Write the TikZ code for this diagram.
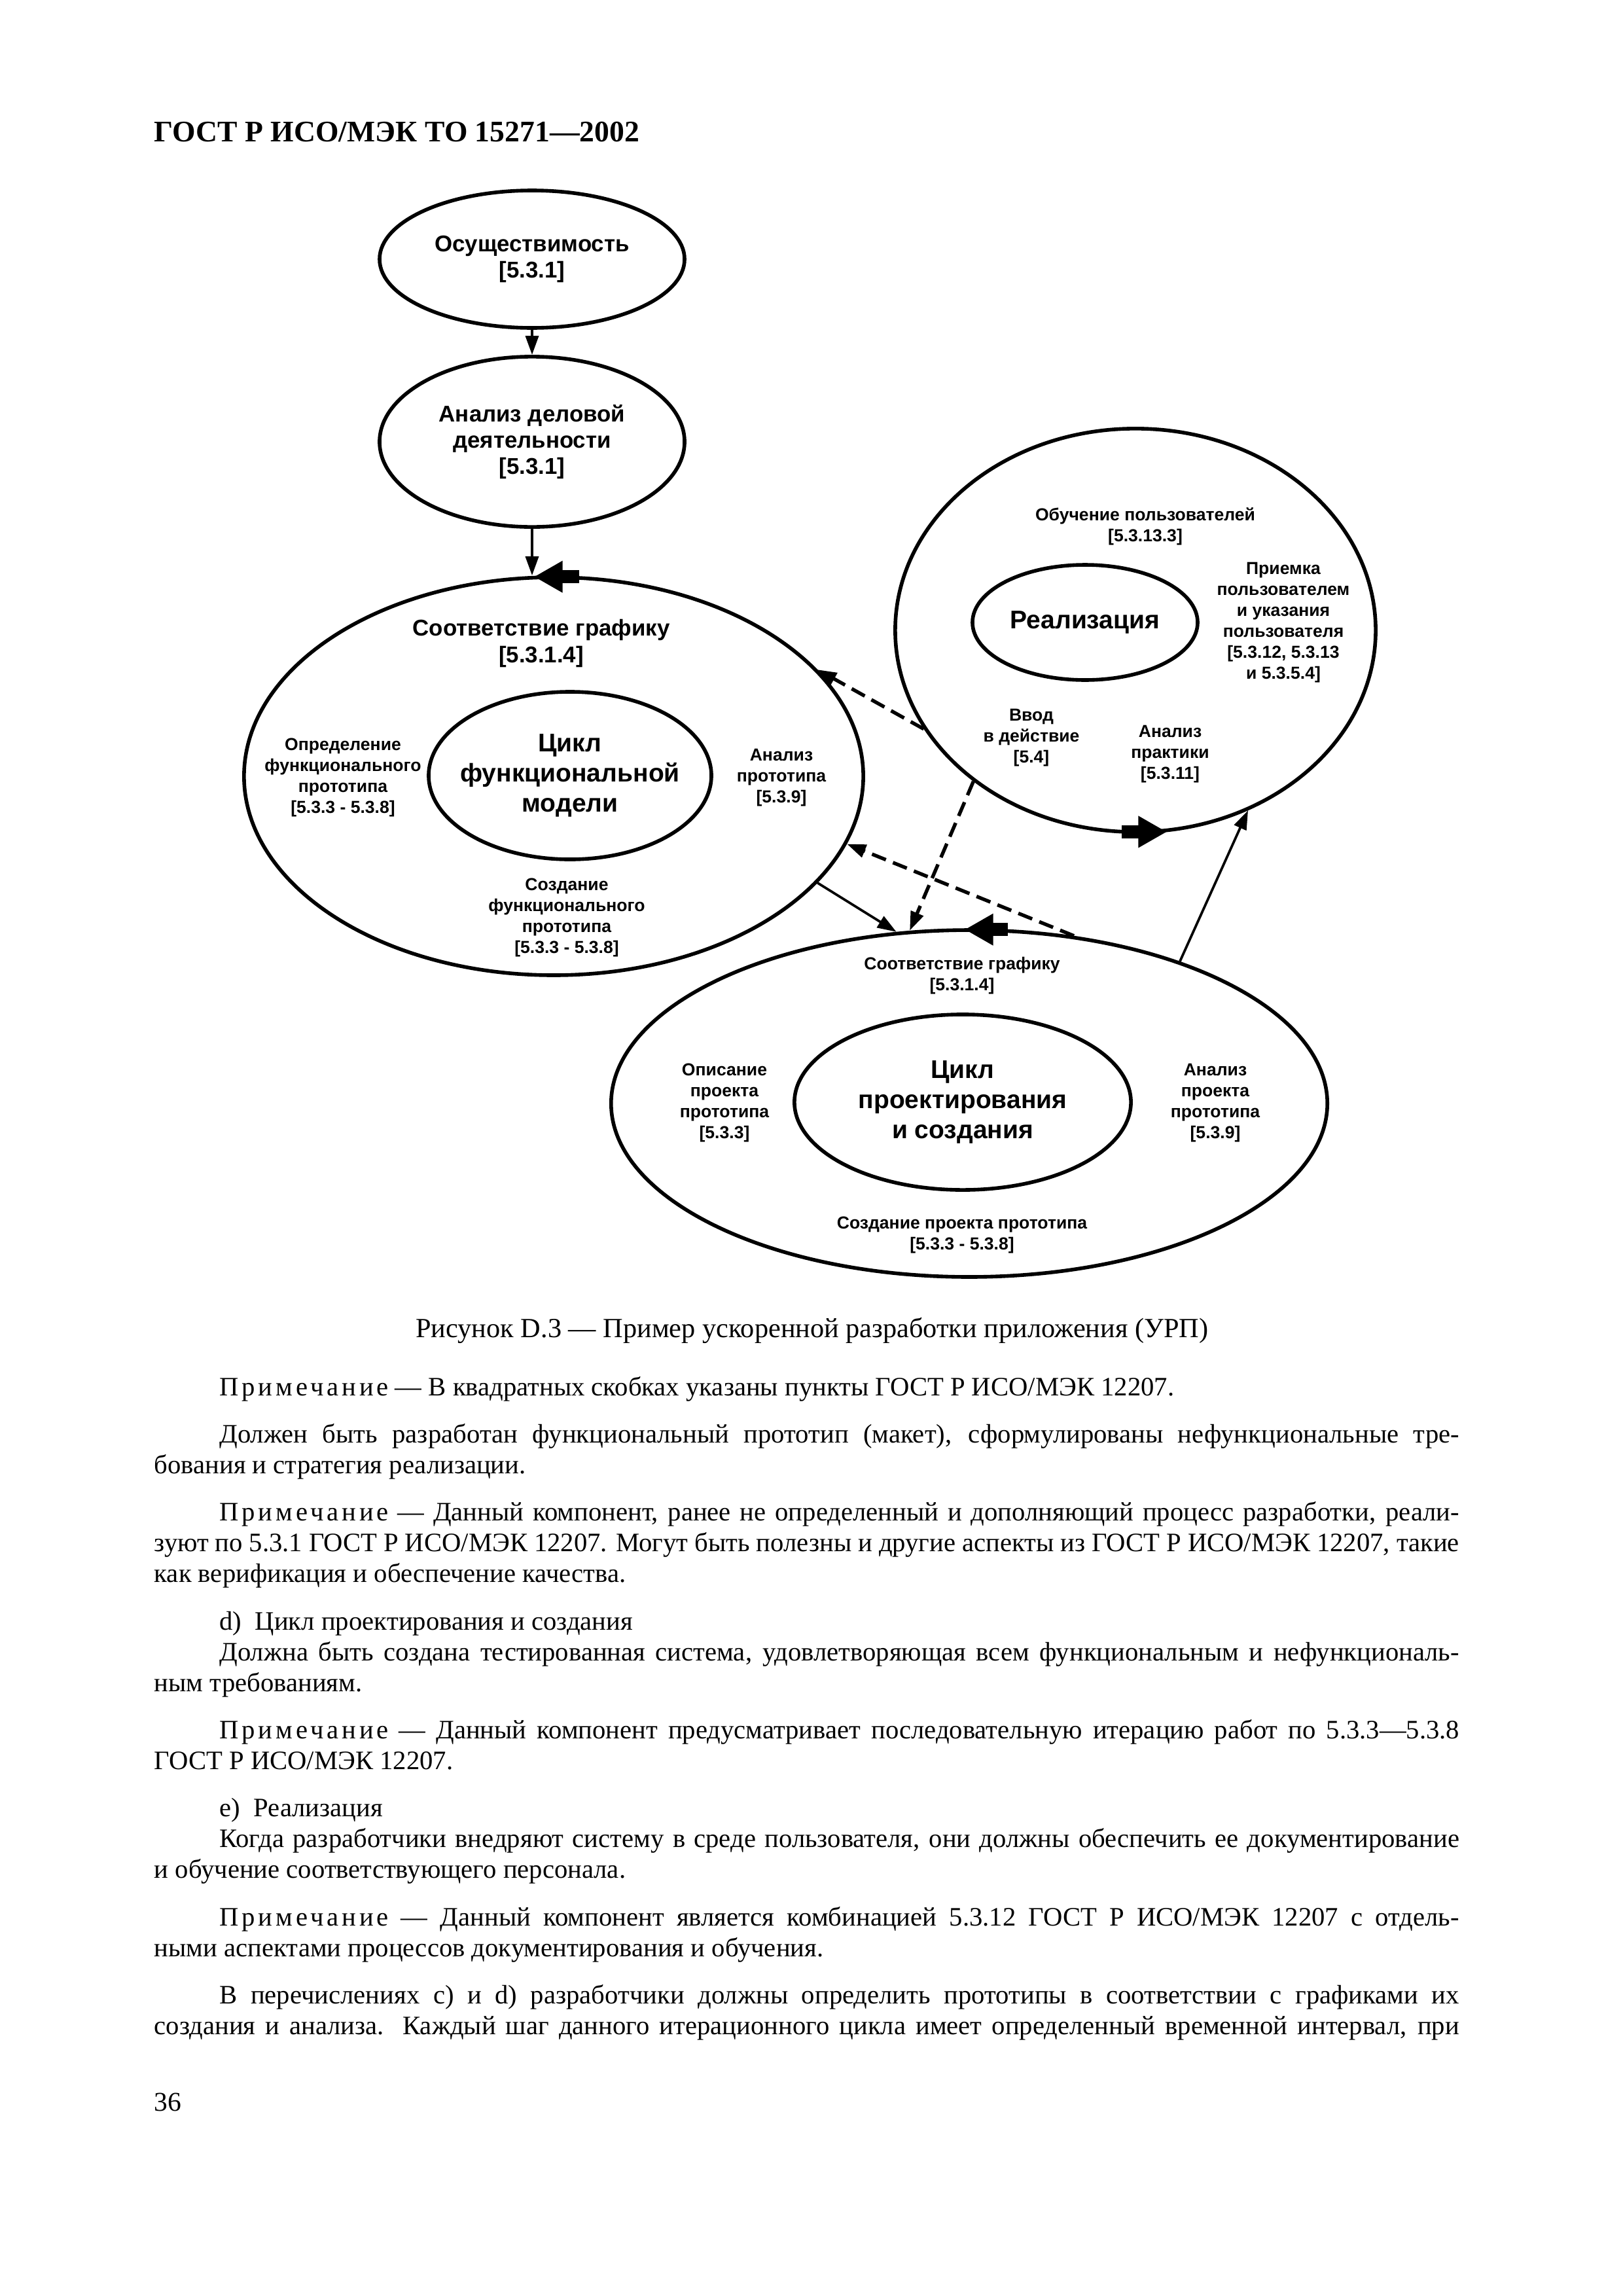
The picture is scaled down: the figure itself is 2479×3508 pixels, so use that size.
\documentclass[tikz,border=0pt]{standalone}
\usepackage{fontspec}
\setmainfont{Liberation Serif}
\newfontfamily\dia{Liberation Sans}
\usetikzlibrary{shapes.geometric,arrows.meta,calc}
% page text lines
\newcommand\fullln[1]{\hbox to\hsize{#1}}
\newcommand\lastln[1]{\hbox{#1}}
\newcommand\pind{\hskip 24pt}
\newcommand\sprs[1]{{\addfontfeatures{LetterSpace=12}#1}}

\begin{document}
\begin{tikzpicture}[x=0.008471cm,y=-0.008471cm,
    cyc/.style 2 args={ellipse,draw,line width=1.35pt,inner sep=0pt,
                minimum width=#1,minimum height=#2},
    big/.style={font=\dia\bfseries\fontsize{8.4}{9.7}\selectfont,align=center},
    mid/.style={font=\dia\bfseries\fontsize{9.4}{11}\selectfont,align=center},
    sml/.style={font=\dia\bfseries\fontsize{6.4}{7.7}\selectfont,align=center},
    ar/.style={-{Triangle[length=7pt,width=4.8pt]},line width=0.9pt},
    dar/.style={ar,line width=1.3pt,dash pattern=on 5.5pt off 2.8pt},
    blk/.style={-{Triangle[length=10.5pt,width=11pt]},line width=4.8pt}
  ]
    \useasboundingbox (0,0) rectangle (2479,3508);
    \node[font=\bfseries\fontsize{11}{13}\selectfont,anchor=base west,inner sep=0pt]
      (hdr) at (235,216) {ГОСТ Р ИСО/МЭК ТО 15271—2002};

    % ellipses
    \node[cyc={112.3pt}{50.6pt},big] (E1) at (813,396) {Осуществимость\\{}[5.3.1]};
    \node[cyc={112.3pt}{62.7pt},big] (E2) at (813,675) {Анализ деловой\\деятельности\\{}[5.3.1]};
    \node[cyc={228pt}{146.5pt}] (L) at (846,1186) {};
    \node[cyc={104.1pt}{61.7pt}] (Li) at (871,1185) {};
    \node[cyc={176.9pt}{148.5pt}] (R) at (1735,963) {};
    \node[cyc={82.9pt}{42.4pt},mid] (Ri) at (1658,951) {Реализация};
    \node[cyc={263.7pt}{127.7pt}] (B) at (1481,1686) {};
    \node[cyc={123.9pt}{64.6pt},mid] (Bi) at (1471,1684) {Цикл\\проектирования\\и создания};

    % labels
    \node[big] (tL) at (827,983) {Соответствие графику\\{}[5.3.1.4]};
    \node[mid] (tLi) at (Li) {Цикл\\функциональной\\модели};
    \node[sml] (tLl) at (524,1188) {Определение\\функционального\\прототипа\\{}[5.3.3 - 5.3.8]};
    \node[sml] (tLr) at (1194,1188) {Анализ\\прототипа\\{}[5.3.9]};
    \node[sml] (tLb) at (866,1402) {Создание\\функционального\\прототипа\\{}[5.3.3 - 5.3.8]};
    \node[sml] (tRt) at (1750,804) {Обучение пользователей\\{}[5.3.13.3]};
    \node[sml] (tRr) at (1961,951) {Приемка\\пользователем\\и указания\\пользователя\\{}[5.3.12, 5.3.13\\и 5.3.5.4]};
    \node[sml] (tRl) at (1576,1127) {Ввод\\в действие\\{}[5.4]};
    \node[sml] (tRb) at (1788,1152) {Анализ\\практики\\{}[5.3.11]};
    \node[sml] (tBt) at (1470,1491) {Соответствие графику\\{}[5.3.1.4]};
    \node[sml] (tBl) at (1107,1685) {Описание\\проекта\\прототипа\\{}[5.3.3]};
    \node[sml] (tBr) at (1857,1685) {Анализ\\проекта\\прототипа\\{}[5.3.9]};
    \node[sml] (tBb) at (1470,1887) {Создание проекта прототипа\\{}[5.3.3 - 5.3.8]};

    % connectors
    \draw[ar] (E1) -- (E2);
    \draw[ar] (E2) -- (E2 |- L.north);
    \draw[dar] (R.205.3) -- (L.22.1);
    \draw[dar] (R.223.7) -- (B.109.1);
    \draw[dar] (B.58.6) -- (L.-13.9);
    \draw[ar] (L.-22) -- (B.113.7);
    \draw[ar] (B.34.1) -- (R.302.5);
    \draw[blk] ($(L.north)+(39,2)$) -- ($(L.north)+(-30,2)$);
    \draw[blk] ($(B.north)+(59,2)$) -- ($(B.north)+(-7,2)$);
    \draw[blk] ($(R.south)+(-21,-3)$) -- ($(R.south)+(48,-3)$);

    \node[font=\fontsize{10.2}{12}\selectfont,anchor=base] (cap) at (1241,2043)
      {Рисунок D.3 — Пример ускоренной разработки приложения (УРП)};

    % page text
    \node[font=\fontsize{9.8}{11.33}\selectfont,anchor=base west,inner sep=0pt] (txt) at (235,2132)
      {\vtop{\hsize=480.5pt \baselineskip=11.33pt \lineskiplimit=-20pt
        \lastln{\pind\sprs{Примечание} — В квадратных скобках указаны пункты ГОСТ Р ИСО/МЭК 12207.}
        \vskip6.1pt
        \fullln{\pind Должен быть разработан функциональный прототип (макет), сформулированы нефункциональные тре-}
        \lastln{бования и стратегия реализации.}
        \vskip6.1pt
        \fullln{\pind\sprs{Примечание} — Данный компонент, ранее не определенный и дополняющий процесс разработки, реали-}
        \fullln{зуют по 5.3.1 ГОСТ Р ИСО/МЭК 12207. Могут быть полезны и другие аспекты из ГОСТ Р ИСО/МЭК 12207, такие}
        \lastln{как верификация и обеспечение качества.}
        \vskip6.1pt
        \lastln{\pind d)~~Цикл проектирования и создания}
        \fullln{\pind Должна быть создана тестированная система, удовлетворяющая всем функциональным и нефункциональ-}
        \lastln{ным требованиям.}
        \vskip6.1pt
        \fullln{\pind\sprs{Примечание} — Данный компонент предусматривает последовательную итерацию работ по 5.3.3—5.3.8}
        \lastln{ГОСТ Р ИСО/МЭК 12207.}
        \vskip6.1pt
        \lastln{\pind e)~~Реализация}
        \fullln{\pind Когда разработчики внедряют систему в среде пользователя, они должны обеспечить ее документирование}
        \lastln{и обучение соответствующего персонала.}
        \vskip6.1pt
        \fullln{\pind\sprs{Примечание} — Данный компонент является комбинацией 5.3.12 ГОСТ Р ИСО/МЭК 12207 с отдель-}
        \lastln{ными аспектами процессов документирования и обучения.}
        \vskip6.1pt
        \fullln{\pind В перечислениях c) и d) разработчики должны определить прототипы в соответствии с графиками их}
        \fullln{создания и анализа. Каждый шаг данного итерационного цикла имеет определенный временной интервал, при}
      }};
    \node[font=\fontsize{10}{12}\selectfont,anchor=base west,inner sep=0pt] (pg) at (235,3225) {36};
\end{tikzpicture}
\end{document}
